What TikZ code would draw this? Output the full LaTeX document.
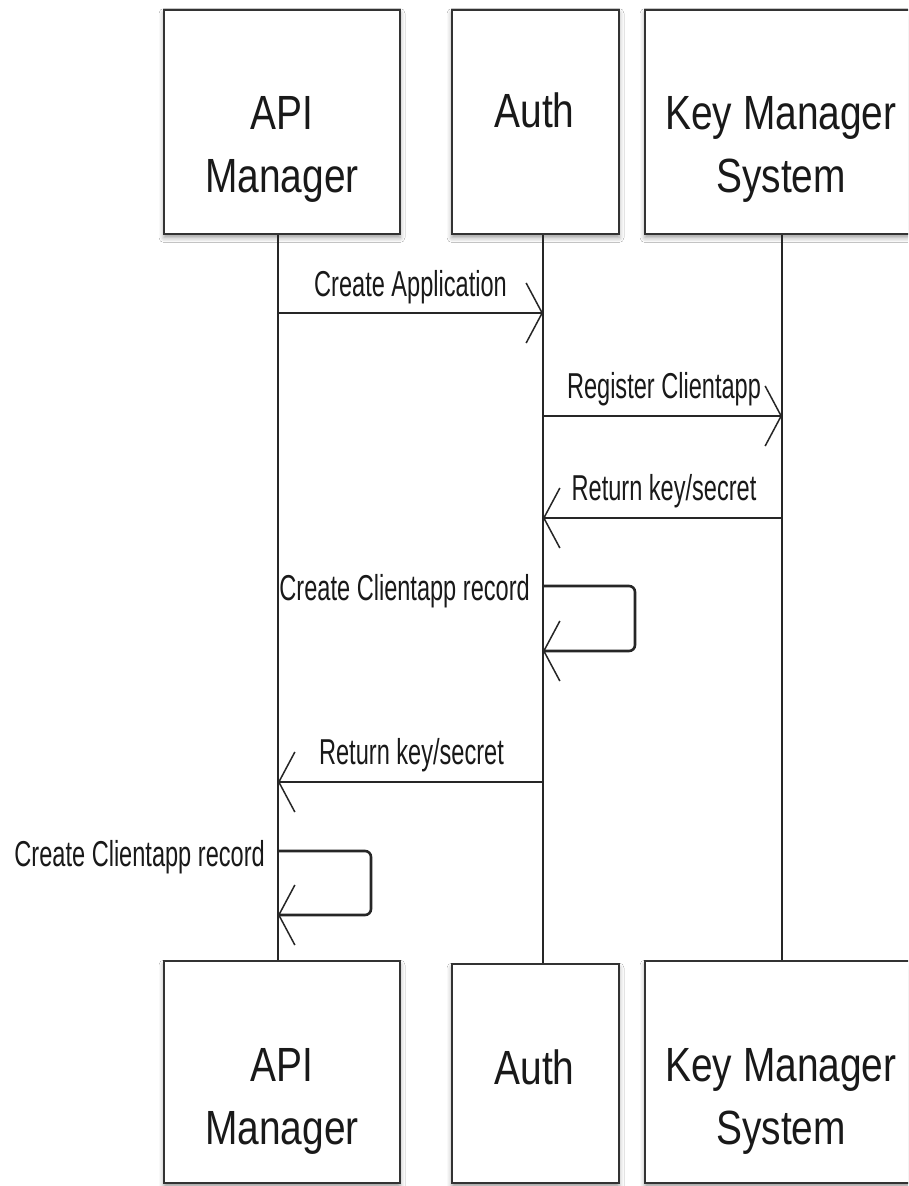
\documentclass[tikz,border=0pt]{standalone}
\usepackage{fontspec}
\newfontfamily\boxfont[FakeStretch=0.81]{Liberation Sans}
\newfontfamily\msgfont[FakeStretch=0.655]{Liberation Sans}
\usetikzlibrary{arrows.meta,shadows.blur}

\tikzset{
  actor/.style={draw=black!80, line width=2pt, fill=white, inner sep=0pt,
    blur shadow={shadow xshift=0pt, shadow yshift=-4pt, shadow blur radius=5pt, shadow opacity=40}},
  actorlabel/.style={font=\boxfont\fontsize{48}{63}\selectfont, align=center, inner sep=0pt, text=black!90},
  life/.style={line width=1.4pt, draw=black!85},
  msg/.style={line width=2.6pt, draw=black!85,
    -{Straight Barb[length=16pt, width=60pt, line width=1.5pt]}},
  selfmsg/.style={msg, rounded corners=6pt},
  msglabel/.style={font=\msgfont\fontsize{36}{40}\selectfont, inner sep=0pt, text=black!90},
}

\begin{document}
\begin{tikzpicture}[x=1pt, y=-1pt]
  \useasboundingbox (0,0) rectangle (908,1186);
  \clip (0,0) rectangle (908,1186);
  \fill[white] (0,0) rectangle (908,1186);

  % participant heads
  \node[actor, minimum width=236pt, minimum height=224pt] (apiT) at (282,121.5) {};
  \node[actor, minimum width=167pt, minimum height=224pt] (authT) at (535.5,121.5) {};
  \node[actor, minimum width=274pt, minimum height=224pt] (kmsT) at (782,121.5) {};

  % participant feet
  \node[actor, minimum width=236pt, minimum height=222pt] (apiB) at (282,1072) {};
  \node[actor, minimum width=167pt, minimum height=219pt] (authB) at (535.5,1073.5) {};
  \node[actor, minimum width=274pt, minimum height=222pt] (kmsB) at (782,1072) {};

  % participant names
  \node[actorlabel, anchor=north] (apiTl) at (282,96) {API\\Manager};
  \node[actorlabel, anchor=north] (authTl) at (534.5,93) {Auth};
  \node[actorlabel, anchor=north] (kmsTl) at (781,96) {Key Manager\\System};
  \node[actorlabel, anchor=north] (apiBl) at (282,1048) {API\\Manager};
  \node[actorlabel, anchor=north] (authBl) at (534.5,1050) {Auth};
  \node[actorlabel, anchor=north] (kmsBl) at (781,1048) {Key Manager\\System};

  % lifelines
  \coordinate (lA) at (278,0);
  \coordinate (lB) at (543,0);
  \coordinate (lC) at (782,0);
  \draw[life] (lA |- apiT.south) -- (lA |- apiB.north);
  \draw[life] (lB |- authT.south) -- (lB |- authB.north);
  \draw[life] (lC |- kmsT.south) -- (lC |- kmsB.north);

  % messages
  \draw[msg] (lA |- 0,313) -- (lB |- 0,313);
  \node[msglabel, anchor=base] (m1) at (410.5,296) {Create Application};

  \draw[msg] (lB |- 0,416) -- (lC |- 0,416);
  \node[msglabel, anchor=base] (m2) at (664,398) {Register Clientapp};

  \draw[msg] (lC |- 0,518) -- (lB |- 0,518);
  \node[msglabel, anchor=base] (m3) at (664,500) {Return key/secret};

  \draw[selfmsg] (lB |- 0,586) -- (635,586) -- (635,651) -- (lB |- 0,651);
  \node[msglabel, anchor=base east] (m4) at (530,600) {Create Clientapp record};

  \draw[msg] (lB |- 0,782) -- (lA |- 0,782);
  \node[msglabel, anchor=base] (m5) at (411.5,764) {Return key/secret};

  \draw[selfmsg] (lA |- 0,851) -- (371,851) -- (371,915) -- (lA |- 0,915);
  \node[msglabel, anchor=base east] (m6) at (265,866) {Create Clientapp record};
\end{tikzpicture}
\end{document}
